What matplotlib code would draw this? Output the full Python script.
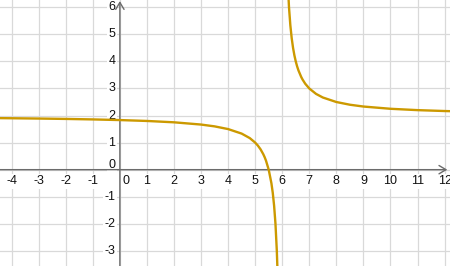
import matplotlib.pyplot as plt

plt.rcParams['font.family'] = ['Liberation Sans', 'DejaVu Sans']

# values, branch left of the asymptote near x = 6
left_x = [-4.43, -4, -3, -2, -1, 0, 1, 2, 3, 3.5, 4, 4.5, 4.8, 5, 5.1, 5.2,
          5.3, 5.35, 5.4, 5.5, 5.6, 5.65, 5.7, 5.75, 5.8, 5.83]
left_y = [1.904, 1.90, 1.889, 1.875, 1.857, 1.833, 1.80, 1.75, 1.667, 1.60,
          1.50, 1.333, 1.167, 1.00, 0.889, 0.75, 0.571, 0.462, 0.333, 0.00,
          -0.50, -0.857, -1.333, -2.00, -3.00, -3.88]

# branch right of the asymptote
right_x = [6.15, 6.2, 6.25, 6.3, 6.35, 6.4, 6.45, 6.5, 6.55, 6.6, 6.7, 6.75,
           6.85, 7, 7.25, 7.5, 8, 8.5, 9, 10, 11, 12, 12.3]
right_y = [8.67, 7.00, 6.00, 5.333, 4.857, 4.50, 4.222, 4.00, 3.818, 3.667,
           3.429, 3.333, 3.176, 3.00, 2.80, 2.667, 2.50, 2.40, 2.333, 2.25,
           2.20, 2.167, 2.159]

x_ticks = list(range(-4, 13))
y_ticks = list(range(-3, 7))

GRID = '#d9d9d9'
AXIS = '#6b6b6b'
CURVE = '#cc9900'

fig = plt.figure(figsize=(4.5, 2.66), dpi=100)
ax = fig.add_axes([0, 0, 1, 1])
ax.set_xlim(-4.43, 12.2)
ax.set_ylim(-3.56, 6.27)
ax.axis('off')

for x in x_ticks:
    ax.axvline(x, color=GRID, lw=0.9, zorder=0)
for y in y_ticks:
    ax.axhline(y, color=GRID, lw=0.9, zorder=0)

box = dict(boxstyle='square,pad=0.12', fc='white', ec='none')
for x in x_ticks:
    xpos = 0.21 if x == 0 else x
    ax.text(xpos, -0.43, str(x), ha='center', va='center', fontsize=9,
            color='#111111', bbox=box, zorder=2)
for y in y_ticks:
    ypos = 0.17 if y == 0 else y
    ax.text(-0.17, ypos, str(y), ha='right', va='center', fontsize=9,
            color='#111111', bbox=box, zorder=2)

# axes with arrow heads
ax.annotate('', xy=(12.1, 0), xytext=(-4.43, 0),
            arrowprops=dict(arrowstyle='->,head_length=0.5,head_width=0.3',
                            color=AXIS, lw=1.0, shrinkA=0, shrinkB=0), zorder=3)
ax.annotate('', xy=(0, 6.23), xytext=(0, -3.56),
            arrowprops=dict(arrowstyle='->,head_length=0.5,head_width=0.3',
                            color=AXIS, lw=1.0, shrinkA=0, shrinkB=0), zorder=3)

ax.plot(left_x, left_y, color=CURVE, lw=1.7, zorder=4)
ax.plot(right_x, right_y, color=CURVE, lw=1.7, zorder=4)

fig.savefig('out.png', dpi=100)
